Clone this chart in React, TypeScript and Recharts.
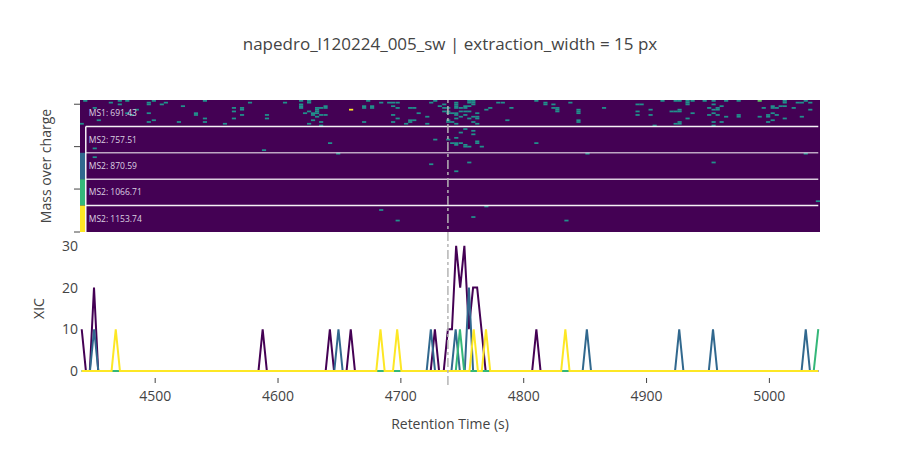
import React from 'react';
import {
  ComposedChart,
  LineChart,
  Line,
  XAxis,
  YAxis,
  ReferenceArea,
  ReferenceLine,
  Label,
} from 'recharts';

// ---- layout constants -------------------------------------------------------
const W = 900;
const H = 458;
const FONT = '"Open Sans", "Noto Sans", sans-serif';
const TEXT = '#444444';

// ---- shared axis -------------------------------------------------------------
const rtDomain: [number, number] = [4438.8, 5041.2];
const rtTicks = [4500, 4600, 4700, 4800, 4900, 5000];
const selectedRt = 4738.3;
const scanStep = 3.4; // seconds between scans (one heatmap column)

// ---- traces ------------------------------------------------------------------
const laneLabels = ['MS1: 691.43', 'MS2: 757.51', 'MS2: 870.59', 'MS2: 1066.71', 'MS2: 1153.74'];
const ms2Colors = ['#440154', '#31688e', '#35b779', '#fde725'];

// ---- extracted ion chromatograms (retention time s, intensity) --------------
const xic757: [number, number][] = [
  [4440.2, 10], [4443.6, 0], [4446.8, 0], [4450.2, 20], [4453.6, 0],
  [4584.1, 0], [4587.5, 10], [4590.9, 0],
  [4638.8, 0], [4642.2, 10], [4645.6, 0],
  [4655.8, 0], [4659.2, 10], [4662.6, 0],
  [4724.3, 0], [4727.7, 10], [4731.1, 0],
  [4734.9, 0], [4738.3, 10], [4741.6, 10], [4745.0, 30], [4748.3, 20], [4751.7, 30],
  [4755.3, 10], [4758.8, 20], [4762.1, 20], [4765.6, 10], [4769.0, 0],
  [4806.9, 0], [4810.3, 10], [4813.7, 0],
  [5039.8, 0],
];
const xic870: [number, number][] = [
  [4440.2, 0], [4446.9, 0], [4450.3, 10], [4453.7, 0],
  [4645.8, 0], [4649.2, 10], [4652.6, 0],
  [4721.0, 0], [4724.4, 10], [4727.8, 0],
  [4741.2, 0], [4744.6, 10], [4748.0, 0],
  [4752.0, 0], [4755.4, 20], [4758.8, 0],
  [4848.0, 0], [4851.4, 10], [4854.8, 0],
  [4923.2, 0], [4926.6, 10], [4930.0, 0],
  [4950.7, 0], [4954.1, 10], [4957.5, 0],
  [5026.2, 0], [5029.6, 10], [5033.0, 0],
  [5039.8, 0],
];
const xic1066: [number, number][] = [
  [4440.2, 0], [4744.7, 0], [4748.1, 10], [4751.5, 0],
  [5036.1, 0], [5039.8, 10],
];
const xic1153: [number, number][] = [
  [4440.2, 0], [4464.5, 0], [4467.9, 10], [4471.3, 0],
  [4680.0, 0], [4683.4, 10], [4686.8, 0],
  [4693.6, 0], [4697.0, 10], [4700.4, 0],
  [4755.9, 0], [4759.3, 10], [4762.7, 0],
  [4765.9, 0], [4769.3, 10], [4772.7, 0],
  [4830.5, 0], [4833.9, 10], [4837.3, 0],
  [5039.8, 0],
];
const xicTicks = [0, 10, 20, 30];

// ---- heatmap: per lane, [retention time, rows (0 = top of lane)] ------------
type CellGroup = [number, number[]];
const ms1Cells: CellGroup[] = [
  [4440.2, [13]], [4443.1, [0]], [4450.8, [4]], [4454.1, [11]], [4463.9, [1]],
  [4471.2, [0, 2]], [4477.3, [0, 7]], [4481.0, [8]], [4485.1, [5]],
  [4494.8, [1, 2, 7, 12]], [4498.9, [0, 11]], [4505.4, [2]], [4508.7, [1]],
  [4519.3, [12]], [4522.6, [3]], [4533.2, [7, 8]], [4540.5, [0, 10, 12]],
  [4556.8, [13]], [4564.1, [4, 6, 10]], [4570.7, [4, 5, 8]], [4577.2, [1]],
  [4591.0, [8, 10]], [4605.7, [1]], [4618.8, [0, 2, 3, 4]], [4622.0, [7]],
  [4625.3, [0, 1, 6, 13]], [4628.5, [7, 8, 11]], [4631.8, [4, 5, 6, 7, 9]],
  [4635.1, [4, 8, 12, 14]], [4638.7, [3, 4, 8]],
  [4670.1, [3, 4, 12]], [4673.4, [0]], [4676.6, [3, 4]], [4684.0, [1]],
  [4690.5, [1]], [4693.7, [1, 3, 8, 12]], [4697.4, [1, 4, 10]], [4704.3, [13]],
  [4707.6, [4, 11, 12]], [4710.9, [4, 11]], [4714.5, [7]], [4721.5, [9, 13]],
  [4724.7, [1]], [4728.0, [0]], [4731.7, [3]], [4735.3, [2, 4, 6]],
  [4738.6, [4, 6, 7, 11, 12]], [4741.8, [7, 12]],
  [4745.1, [1, 2, 3, 4, 7, 8, 10, 13]], [4748.8, [4, 6, 9]], [4752.5, [3, 4, 6, 8]],
  [4755.7, [0, 1, 3, 6, 10]], [4759.0, [0, 1, 2, 9, 12]], [4762.2, [7, 9, 10, 13]],
  [4769.6, [5]], [4772.8, [4]], [4779.3, [1]], [4783.0, [1]], [4786.7, [11]],
  [4790.0, [4]], [4810.3, [0]], [4817.7, [1, 2]], [4824.2, [2, 4]],
  [4827.4, [4, 5, 6]], [4838.0, [1]], [4844.6, [5, 6, 7, 11, 12]], [4865.4, [4]],
  [4892.7, [2, 6, 8]], [4896.0, [2]], [4903.3, [5, 8]], [4906.6, [14]],
  [4913.0, [0]], [4920.4, [6]], [4923.7, [0, 6, 13]], [4926.9, [0, 5, 6, 12, 13]],
  [4933.4, [0, 1, 2, 10]], [4937.5, [0, 7]], [4947.3, [0]], [4951.0, [4, 8]],
  [4954.6, [0, 2, 5, 7, 12, 14]], [4957.9, [4, 5, 8]], [4961.1, [3, 12]],
  [4964.8, [0, 9]], [4975.0, [0, 8, 9]], [4992.1, [9]], [4995.4, [4]],
  [4999.0, [8, 9, 12]], [5002.7, [3, 4, 7, 11]], [5006.0, [4, 8]], [5009.2, [3]],
  [5012.5, [0, 1, 3, 10]], [5019.8, [4]], [5023.1, [1]], [5026.4, [1, 9]],
  [5029.6, [0]], [5033.3, [1, 5]],
];
const ms2Cells757: CellGroup[] = [
  [4450.8, [12]], [4588.6, [13]], [4642.4, [9]], [4728.0, [7]], [4738.6, [7]],
  [4741.8, [9]], [4745.1, [6, 9, 10]], [4748.8, [3, 9]], [4752.5, [1, 10, 11]],
  [4755.7, [11]], [4759.0, [2, 4]], [4762.2, [8, 9]], [4765.9, [11]], [4810.3, [9]],
];
const ms2Cells870: CellGroup[] = [
  [4450.8, [2]], [4649.0, [0]], [4724.7, [6]], [4745.1, [10]], [4755.7, [5]],
  [4851.9, [0]], [4954.6, [5]], [5029.6, [0]],
];
const ms2Cells1066: CellGroup[] = [[5039.5, [12]]];
const ms2Cells1153: CellGroup[] = [
  [4684.0, [2]], [4697.4, [8]], [4759.0, [6]], [4769.6, [0]], [4834.8, [8]],
];
// stronger single pixels in the MS1 lane: [time, row, colour]
const brightCells: [number, number, string][] = [
  [4659.5, 5, '#fde725'],
  [4992.1, 0, '#5ec962'],
];

const laneCells = [ms1Cells, ms2Cells757, ms2Cells870, ms2Cells1066, ms2Cells1153];
const rowsPerLane = 15;
const laneCount = laneLabels.length;
const mzTicks = [0, 24.4, 48.5, 72.6];
const cellColor = '#21918c';
const background = '#440154';
const laneLeft = 4443.5;
const laneRight = 5039.8;
const separatorOpacity = [0.95, 0.65, 0.8, 0.95];

const rowValue = (lane: number, row: number) =>
  (laneCount - 1 - lane) * rowsPerLane + (rowsPerLane - 1 - row);

const cells = [
  ...laneCells.flatMap((groups, lane) =>
    groups.flatMap(([t, rows]) => rows.map((row) => ({ t, lane, row, color: cellColor })))
  ),
  ...brightCells.map(([t, row, color]) => ({ t, lane: 0, row, color })),
];

const toPoints = (arr: [number, number][]) => arr.map(([t, v]) => ({ t, v }));
const xicSeries = [
  { name: laneLabels[1], color: ms2Colors[0], data: toPoints(xic757) },
  { name: laneLabels[2], color: ms2Colors[1], data: toPoints(xic870) },
  { name: laneLabels[3], color: ms2Colors[2], data: toPoints(xic1066) },
  { name: laneLabels[4], color: ms2Colors[3], data: toPoints(xic1153) },
];

const layer: React.CSSProperties = { position: 'absolute', left: 0, top: 0 };
const noLabel = () => '';

export default function App() {
  const mzMax = laneCount * rowsPerLane;
  return (
    <div
      style={{
        position: 'absolute',
        left: 0,
        top: 0,
        width: W,
        height: H,
        background: '#ffffff',
        fontFamily: FONT,
        overflow: 'hidden',
      }}
    >
      {/* heatmap of extracted lanes */}
      <div style={layer}>
        <ComposedChart width={W} height={H} margin={{ top: 100, right: 80, bottom: 226, left: 0 }}>
          <XAxis
            type="number"
            dataKey="t"
            domain={rtDomain}
            ticks={rtTicks}
            height={0}
            tick={false}
            tickLine={false}
            axisLine={{ stroke: '#444444', strokeWidth: 1 }}
            allowDataOverflow
          />
          <YAxis
            type="number"
            domain={[0, mzMax]}
            ticks={mzTicks}
            width={80}
            tickFormatter={noLabel}
            tickSize={6}
            tickLine={{ stroke: '#444444', strokeWidth: 1 }}
            axisLine={false}
            allowDataOverflow
          />
          <ReferenceArea
            x1={rtDomain[0]}
            x2={rtDomain[1]}
            y1={0}
            y2={mzMax}
            fill={background}
            fillOpacity={1}
            stroke="none"
          />
          {cells.map((c, i) => {
            const v = rowValue(c.lane, c.row);
            return (
              <ReferenceArea
                key={`c${i}`}
                x1={c.t - scanStep / 2}
                x2={c.t + scanStep / 2}
                y1={v}
                y2={v + 1}
                fill={c.color}
                fillOpacity={1}
                stroke="none"
                ifOverflow="hidden"
              />
            );
          })}
          {ms2Colors.map((color, i) => {
            const lane = i + 1;
            return (
              <ReferenceArea
                key={`s${i}`}
                x1={rtDomain[0]}
                x2={laneLeft}
                y1={(laneCount - 1 - lane) * rowsPerLane}
                y2={(laneCount - lane) * rowsPerLane}
                fill={color}
                fillOpacity={1}
                stroke="none"
              />
            );
          })}
          {separatorOpacity.map((op, i) => {
            const y = (laneCount - 1 - i) * rowsPerLane;
            return (
              <ReferenceLine
                key={`h${i}`}
                segment={[
                  { x: laneLeft, y },
                  { x: laneRight, y },
                ]}
                stroke="#ffffff"
                strokeOpacity={op}
                strokeWidth={1.5}
              />
            );
          })}
          <ReferenceLine
            segment={[
              { x: laneLeft, y: 0 },
              { x: laneLeft, y: (laneCount - 1) * rowsPerLane },
            ]}
            stroke="#ffffff"
            strokeOpacity={0.95}
            strokeWidth={1.5}
          />
          {laneLabels.map((name, lane) => (
            <ReferenceArea
              key={`l${lane}`}
              x1={laneLeft}
              x2={laneRight}
              y1={(laneCount - 1 - lane) * rowsPerLane}
              y2={(laneCount - lane) * rowsPerLane}
              fill="none"
              fillOpacity={0}
              stroke="none"
            >
              <Label value={name} position="insideLeft" offset={3} fill="#dcd2e2" fontSize={8.5} />
            </ReferenceArea>
          ))}
        </ComposedChart>
      </div>

      {/* XIC traces */}
      <div style={layer}>
        <LineChart width={W} height={H} margin={{ top: 239.2, right: 80, bottom: 50, left: 0 }}>
          <XAxis
            type="number"
            dataKey="t"
            domain={rtDomain}
            ticks={rtTicks}
            height={30}
            tickSize={5}
            tickMargin={8}
            axisLine={false}
            tickLine={{ stroke: '#444444' }}
            tick={{ fill: TEXT, fontSize: 14 }}
            allowDataOverflow
          />
          <YAxis
            type="number"
            domain={[-1.7, 31.6]}
            ticks={xicTicks}
            width={80}
            tickSize={0}
            tickMargin={2}
            axisLine={false}
            tickLine={false}
            tick={{ fill: TEXT, fontSize: 14 }}
            allowDataOverflow
          />
          {xicSeries.map((s) => (
            <Line
              key={s.name}
              name={s.name}
              data={s.data}
              dataKey="v"
              type="linear"
              stroke={s.color}
              strokeWidth={2}
              dot={false}
              activeDot={false}
              isAnimationActive={false}
            />
          ))}
          <ReferenceLine
            segment={[
              { x: selectedRt, y: -3.4 },
              { x: selectedRt, y: 65 },
            ]}
            stroke="#b5b5b5"
            strokeWidth={1.5}
            strokeDasharray="9 3 3 3"
            ifOverflow="visible"
          />
        </LineChart>
      </div>

      {/* titles */}
      <svg width={W} height={H} style={{ ...layer, pointerEvents: 'none' }}>
        <text x={450} y={50} textAnchor="middle" fontSize={17} fill={TEXT} fontFamily={FONT}>
          napedro_l120224_005_sw | extraction_width = 15 px
        </text>
        <text
          transform="translate(50.5,166) rotate(-90)"
          textAnchor="middle"
          fontSize={14}
          fill={TEXT}
          fontFamily={FONT}
        >
          Mass over charge
        </text>
        <text
          transform="translate(43.5,308.5) rotate(-90)"
          textAnchor="middle"
          fontSize={14}
          fill={TEXT}
          fontFamily={FONT}
        >
          XIC
        </text>
        <text x={450} y={429} textAnchor="middle" fontSize={14} fill={TEXT} fontFamily={FONT}>
          Retention Time (s)
        </text>
      </svg>
    </div>
  );
}
